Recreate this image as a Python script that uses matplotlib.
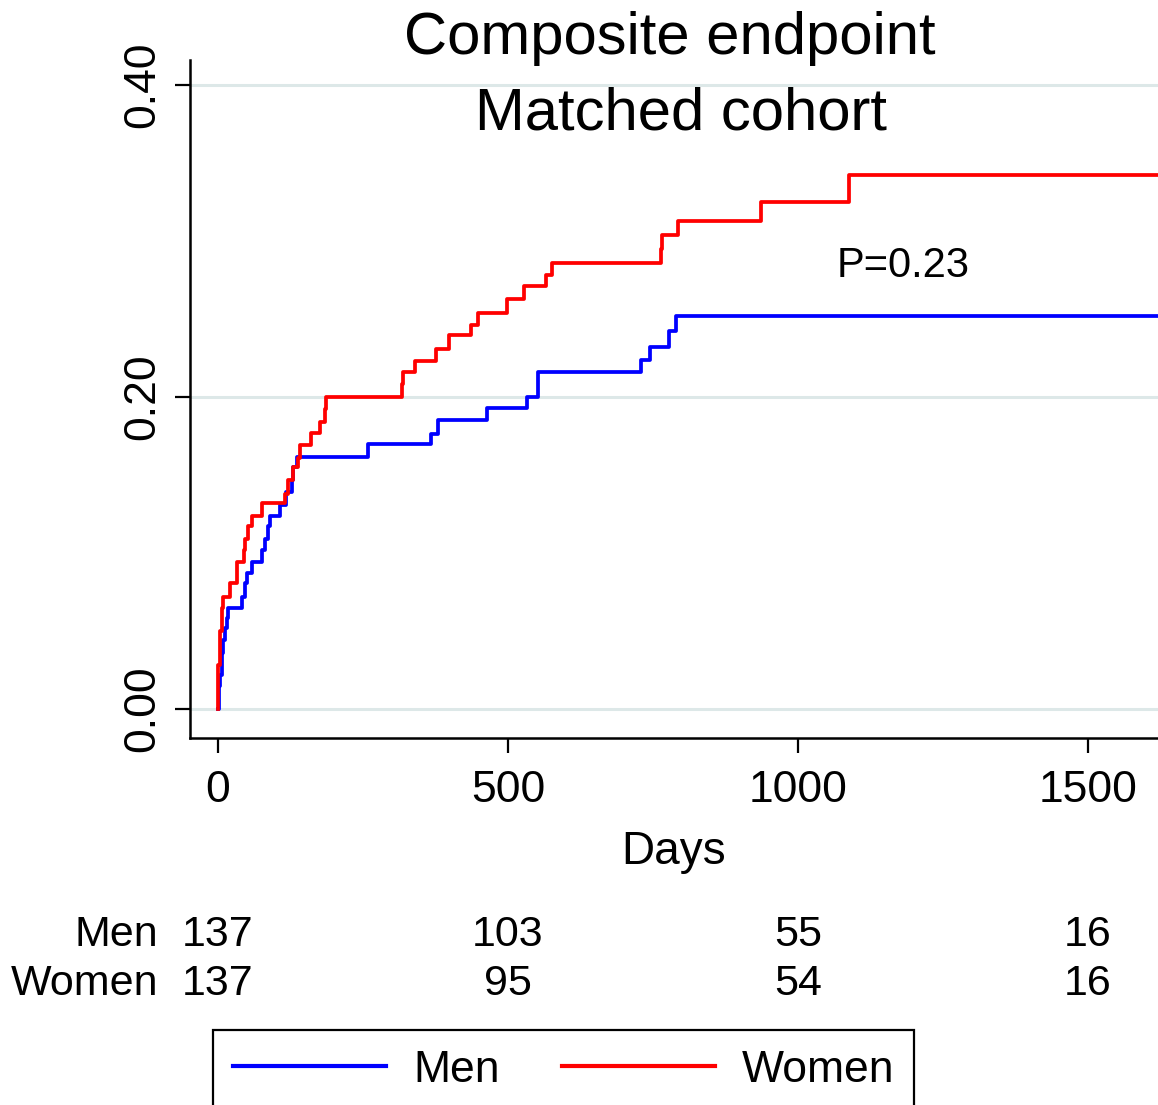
import matplotlib
matplotlib.use("Agg")
import matplotlib.pyplot as plt
import matplotlib.transforms as mtransforms
from matplotlib.lines import Line2D

plt.rcParams['font.family'] = ['Liberation Sans', 'DejaVu Sans']

# Cumulative incidence step curves (event day, value after the step)
men_days = [0, 1, 3, 6.3, 9.2, 12, 15, 18, 41, 46.5, 49.4, 58, 75, 81, 87, 90,
            107, 118, 127, 130, 136, 259, 368, 380, 464, 532, 552, 729, 744,
            778, 790]
men_inc = [0, 0.015, 0.022, 0.036, 0.044, 0.052, 0.058, 0.065, 0.072, 0.081,
           0.087, 0.094, 0.102, 0.109, 0.117, 0.124, 0.131, 0.139, 0.147,
           0.155, 0.1615, 0.170, 0.176, 0.185, 0.193, 0.200, 0.216, 0.224,
           0.232, 0.242, 0.252]

women_days = [0, 0.5, 3.4, 6.3, 9.2, 20.7, 32, 44, 46.5, 52, 58, 75, 115.5,
              121, 130, 138, 141, 161, 176, 184, 187, 317, 319.5, 340, 375,
              399, 436, 449, 498, 528, 565, 576, 763, 766, 793, 936, 1088]
women_inc = [0, 0.028, 0.050, 0.065, 0.072, 0.081, 0.094, 0.102, 0.109,
             0.117, 0.124, 0.132, 0.138, 0.147, 0.155, 0.161, 0.169, 0.177,
             0.184, 0.192, 0.200, 0.208, 0.216, 0.223, 0.231, 0.240, 0.246,
             0.254, 0.263, 0.271, 0.278, 0.286, 0.295, 0.304, 0.313, 0.325,
             0.342]

follow_up_end = 1700

# number at risk table
risk_days = [0, 500, 1000, 1500]
men_at_risk = [137, 103, 55, 16]
women_at_risk = [137, 95, 54, 16]

x_ticks = [0, 500, 1000, 1500]
y_ticks = [0.0, 0.2, 0.4]
p_text = "P=0.23"

W, H = 1158, 1105
fig = plt.figure(figsize=(W / 100, H / 100), dpi=100)
ax = fig.add_axes([190 / W, 1 - 738 / H, 968 / W, 678 / H])

blue = (0, 0, 1)
red = (1, 0, 0)
ax.step(men_days + [follow_up_end], men_inc + [men_inc[-1]], where='post',
        color=blue, lw=2.7, label='Men', zorder=3)
ax.step(women_days + [follow_up_end], women_inc + [women_inc[-1]], where='post',
        color=red, lw=2.7, label='Women', zorder=4)

ax.set_xlim(-48.3, 1620.7)
ax.set_ylim(-0.0186, 0.416)

ax.set_xticks(x_ticks)
ax.set_yticks(y_ticks)
ax.set_yticklabels([f"{v:.2f}" for v in y_ticks], rotation=90, va='center')
ax.tick_params(axis='both', length=11, width=1.6, color='black',
               labelsize=32)
ax.tick_params(axis='x', pad=12)
ax.tick_params(axis='y', pad=8)

ax.grid(axis='y', color='#dde8e8', lw=2.2, zorder=0)
ax.set_axisbelow(True)

for side in ['top', 'right']:
    ax.spines[side].set_visible(False)
for side in ['left', 'bottom']:
    ax.spines[side].set_linewidth(1.8)
    ax.spines[side].set_color('black')

ax.set_xlabel("Days", fontsize=33, labelpad=14)

ax.text(1067, 0.277, p_text, fontsize=30, ha='left', va='baseline')

# titles
fig.text(670 / W, 1 - 54 / H, "Composite endpoint", fontsize=43,
         ha='center', va='baseline')
fig.text(681 / W, 1 - 129 / H, "Matched cohort", fontsize=43,
         ha='center', va='baseline')

# number at risk rows
trans = mtransforms.blended_transform_factory(ax.transData, fig.transFigure)
rows = [("Men", men_at_risk, 946), ("Women", women_at_risk, 995)]
for name, counts, base in rows:
    fig.text(158 / W, 1 - base / H, name, fontsize=31, ha='right',
             va='baseline')
    for d, n in zip(risk_days, counts):
        ax.text(d, 1 - base / H, str(n), transform=trans, fontsize=31,
                ha='center', va='baseline', clip_on=False)

handles = [Line2D([], [], color=blue, lw=3), Line2D([], [], color=red, lw=3)]
leg = fig.legend(handles, ['Men', 'Women'], ncol=2, loc='upper left',
                 bbox_to_anchor=(213 / W, 1 - 1030 / H), fontsize=32,
                 handlelength=3.45, handletextpad=0.6, columnspacing=1.4,
                 borderpad=0.45, borderaxespad=0, fancybox=False,
                 framealpha=1, edgecolor='black')
leg.get_frame().set_linewidth(1.6)

fig.savefig("out.png", dpi=100)
